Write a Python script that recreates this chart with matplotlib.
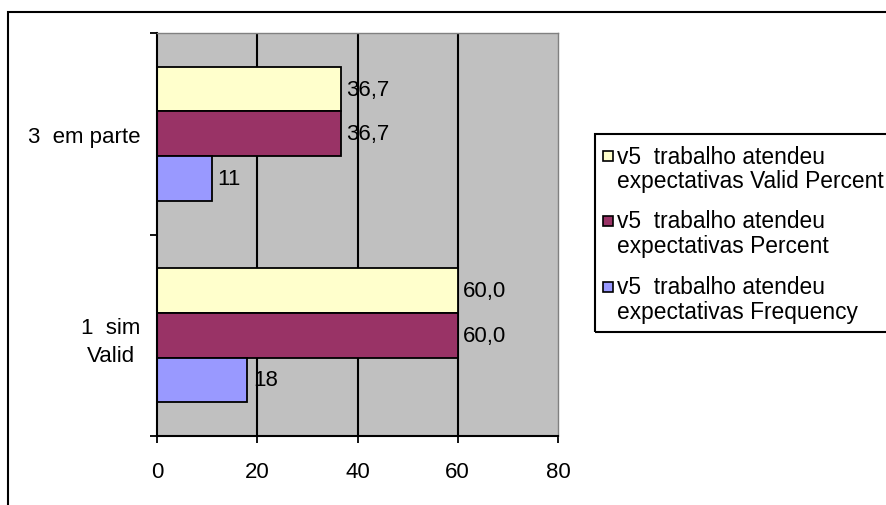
import matplotlib.pyplot as plt
from matplotlib.patches import Rectangle

plt.rcParams['font.family'] = ['Liberation Sans', 'DejaVu Sans']

# Data
categories = ['1  sim\nValid', '3  em parte']
valid_percent = [60.0, 36.7]
percent = [60.0, 36.7]
frequency = [18, 11]
series_labels = [
    ('v5  trabalho atendeu', 'expectativas Valid Percent'),
    ('v5  trabalho atendeu', 'expectativas Percent'),
    ('v5  trabalho atendeu', 'expectativas Frequency'),
]
value_labels = [
    ['60,0', '36,7'],
    ['60,0', '36,7'],
    ['18', '11'],
]
colors = ['#FFFFCC', '#993366', '#9999FF']

W, H = 886, 506
fig = plt.figure(figsize=(W / 100, H / 100), dpi=100)
ax = fig.add_axes([157 / W, 69 / H, 401 / W, 403 / H])
ax.set_facecolor('#C0C0C0')

fs = 16
bar_h = 0.222
offsets = [0.222, 0.0, -0.222]
series = [valid_percent, percent, frequency]

ax.set_axisbelow(True)
for gx in [20, 40, 60]:
    ax.axvline(gx, color='black', lw=1.5, zorder=0.5)

for s, vals in enumerate(series):
    ys = [i + offsets[s] for i in range(len(categories))]
    ax.barh(ys, vals, height=bar_h, color=colors[s], edgecolor='black',
            linewidth=1.3, zorder=2)
    for y, v, txt in zip(ys, vals, value_labels[s]):
        ax.annotate(txt, (v, y), xytext=(4, 0), textcoords='offset points',
                    va='center', ha='left', fontsize=fs, zorder=3)

ax.set_xlim(0, 80)
ax.set_ylim(-0.5, 1.5)
ax.set_xticks([0, 20, 40, 60, 80])
ax.set_xticklabels(['0', '20', '40', '60', '80'], fontsize=fs)
ax.tick_params(axis='x', direction='out', length=5, width=1.3, pad=13)

ax.set_yticks([0, 1])
ax.set_yticklabels(categories, fontsize=fs, multialignment='center',
                   linespacing=1.45)
ax.tick_params(axis='y', which='major', length=0, pad=12)
ax.set_yticks([-0.5, 0.5, 1.5], minor=True)
ax.tick_params(axis='y', which='minor', direction='out', length=5, width=1.3)

for side in ['top', 'right']:
    ax.spines[side].set_color('#808080')
    ax.spines[side].set_linewidth(1.0)
for side in ['left', 'bottom']:
    ax.spines[side].set_color('black')
    ax.spines[side].set_linewidth(1.5)

# Outer chart frame (runs off the right and bottom edges)
fig.patches.append(Rectangle((8 / W, -0.05), 1.0, 1 - 13 / H + 0.05,
                             transform=fig.transFigure, fill=False,
                             edgecolor='black', lw=1.5))

# Legend box
fig.patches.append(Rectangle((595 / W, 1 - 333 / H), 0.5, 198 / H,
                             transform=fig.transFigure, fill=False,
                             edgecolor='black', lw=1.5))
first_line_y = [157, 222, 288]
leg_fs = 16.4
for (l1, l2), c, y in zip(series_labels, colors, first_line_y):
    fig.patches.append(Rectangle((603 / W, 1 - (y + 5) / H), 10 / W, 10 / H,
                                 transform=fig.transFigure, facecolor=c,
                                 edgecolor='black', lw=1.2))
    fig.text(617 / W, 1 - y / H, l1, fontsize=leg_fs, va='center', ha='left')
    fig.text(617 / W, 1 - (y + 25) / H, l2, fontsize=leg_fs, va='center', ha='left')

fig.savefig('out.png', dpi=100)
